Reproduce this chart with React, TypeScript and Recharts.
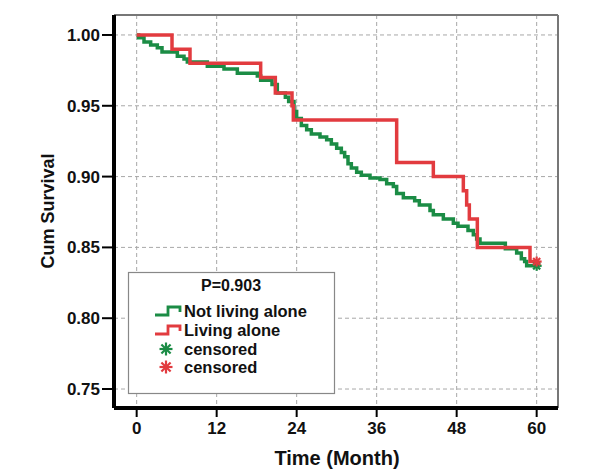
import React from 'react';
import { LineChart, Line, XAxis, YAxis, CartesianGrid, ReferenceLine } from 'recharts';

// ---- Data ----
const notAloneTimes = [0, 0.3, 1.1, 2.1, 3.1, 3.8, 6.1, 7.1, 7.6, 10.6, 13.1, 15.1, 18.1, 18.6, 20.3, 21.1, 22.3, 22.8, 23.6, 24.0, 24.7, 25.5, 26.2, 27.5, 28.5, 29.2, 30.0, 30.7, 31.2, 31.7, 32.2, 33.0, 33.7, 35.0, 36.5, 37.5, 38.5, 39.0, 40.0, 41.7, 42.4, 44.0, 44.5, 46.0, 47.5, 48.2, 49.7, 50.5, 51.0, 51.5, 55.3, 57.0, 57.7, 58.2, 58.5, 60];
const notAloneSurv = [1.0, 0.998, 0.995, 0.993, 0.991, 0.988, 0.985, 0.983, 0.981, 0.978, 0.976, 0.973, 0.971, 0.968, 0.965, 0.959, 0.956, 0.953, 0.946, 0.941, 0.936, 0.933, 0.930, 0.928, 0.926, 0.923, 0.920, 0.917, 0.914, 0.909, 0.906, 0.903, 0.901, 0.899, 0.898, 0.895, 0.893, 0.888, 0.885, 0.883, 0.880, 0.876, 0.873, 0.870, 0.867, 0.865, 0.862, 0.859, 0.856, 0.853, 0.849, 0.846, 0.842, 0.840, 0.837, 0.837];
const notAloneCensored = [60];

const aloneTimes = [0, 5.3, 8.0, 18.6, 20.8, 23.3, 23.5, 39.0, 44.5, 49.0, 49.5, 49.9, 51.1, 59.0, 60];
const aloneSurv = [1.0, 0.990, 0.980, 0.970, 0.959, 0.950, 0.940, 0.910, 0.900, 0.890, 0.880, 0.870, 0.850, 0.840, 0.840];
const aloneCensored = [60];

const xTicks = [0, 12, 24, 36, 48, 60];
const yTicks = [0.75, 0.8, 0.85, 0.9, 0.95, 1.0];
const X_DOMAIN: [number, number] = [-3.4, 63.2];
const Y_DOMAIN: [number, number] = [0.7366, 1.0141];

const groupLabels = ['Not living alone', 'Living alone'];
const censoredLabel = 'censored';
const pValueText = 'P=0.903';
const xTitle = 'Time (Month)';
const yTitle = 'Cum Survival';

const GREEN = '#1b8c45';
const RED = '#e23b3f';
const FONT = '"Liberation Sans", Arial, sans-serif';

const build = (ts: number[], ss: number[], cens: number[]) =>
  ts.map((t, i) => ({ t, s: ss[i], c: cens.includes(t) }));

const greenData = build(notAloneTimes, notAloneSurv, notAloneCensored);
const redData = build(aloneTimes, aloneSurv, aloneCensored);

const Star = ({ cx, cy, color, r = 5 }: { cx: number; cy: number; color: string; r?: number }) => {
  const lines = [];
  for (let k = 0; k < 4; k++) {
    const a = (k * Math.PI) / 4;
    const dx = Math.cos(a) * r;
    const dy = Math.sin(a) * r;
    lines.push(<line key={k} x1={cx - dx} y1={cy - dy} x2={cx + dx} y2={cy + dy} stroke={color} strokeWidth={2.2} />);
  }
  return <g>{lines}</g>;
};

const makeDot = (color: string) => (props: any) => {
  const { cx, cy, payload, index } = props;
  if (payload && payload.c) {
    return (
      <g key={`dot-${color}-${index}`}>
        <Star cx={cx} cy={cy} color={color} />
      </g>
    );
  }
  return <g key={`dot-${color}-${index}`} />;
};

const StepIcon = ({ x, y, color }: { x: number; y: number; color: string }) => (
  <path d={`M${x},${y + 4} H${x + 13} V${y - 4} H${x + 25} V${y + 1}`} fill="none" stroke={color} strokeWidth={2.8} />
);

const LegendBox = () => {
  const rows = [311, 330, 349, 367];
  const tx = 184;
  return (
    <svg width={592} height={471} style={{ position: 'absolute', left: 0, top: 0, pointerEvents: 'none' }}>
      <rect x={128.5} y={272.5} width={206} height={121} fill="#fff" stroke="#888" strokeWidth={1.2} />
      <text x={231} y={285} textAnchor="middle" dominantBaseline="central" fontFamily={FONT} fontWeight="bold" fontSize={16} fill="#111">
        {pValueText}
      </text>
      <StepIcon x={155} y={rows[0]} color={GREEN} />
      <text x={tx} y={rows[0]} dominantBaseline="central" fontFamily={FONT} fontWeight="bold" fontSize={16.5} fill="#111">
        {groupLabels[0]}
      </text>
      <StepIcon x={155} y={rows[1]} color={RED} />
      <text x={tx} y={rows[1]} dominantBaseline="central" fontFamily={FONT} fontWeight="bold" fontSize={16.5} fill="#111">
        {groupLabels[1]}
      </text>
      <Star cx={166} cy={rows[2]} color={GREEN} r={6.5} />
      <text x={tx} y={rows[2]} dominantBaseline="central" fontFamily={FONT} fontWeight="bold" fontSize={16.5} fill="#111">
        {censoredLabel}
      </text>
      <Star cx={166} cy={rows[3]} color={RED} r={6.5} />
      <text x={tx} y={rows[3]} dominantBaseline="central" fontFamily={FONT} fontWeight="bold" fontSize={16.5} fill="#111">
        {censoredLabel}
      </text>
    </svg>
  );
};

export default function App() {
  return (
    <div style={{ position: 'absolute', left: 0, top: 0, width: 592, height: 471, background: '#fff' }}>
      <LineChart
        width={592}
        height={471}
        margin={{ top: 15, right: 34, bottom: 33, left: 54 }}
        style={{ fontFamily: FONT }}
      >
        <CartesianGrid
          stroke="#a8a8a8"
          strokeDasharray="4 3"
          verticalValues={xTicks}
          horizontalValues={yTicks}
        />
        <XAxis
          type="number"
          dataKey="t"
          domain={X_DOMAIN}
          ticks={xTicks}
          allowDataOverflow
          height={30}
          axisLine={{ stroke: '#000', strokeWidth: 4 }}
          tickLine={{ stroke: '#000', strokeWidth: 2 }}
          tickSize={9}
          tickMargin={5}
          tick={{ fill: '#111', fontSize: 17, fontWeight: 'bold', fontFamily: FONT }}
          label={{
            content: () => (
              <text x={337} y={458} textAnchor="middle" dominantBaseline="central" fontFamily={FONT} fontWeight="bold" fontSize={20} fill="#111">
                {xTitle}
              </text>
            ),
          }}
        />
        <YAxis
          type="number"
          domain={Y_DOMAIN}
          ticks={yTicks}
          allowDataOverflow
          width={60}
          axisLine={{ stroke: '#000', strokeWidth: 4 }}
          tickLine={{ stroke: '#000', strokeWidth: 2 }}
          tickSize={12}
          tickMargin={2}
          tickFormatter={(v: number) => v.toFixed(2)}
          tick={{ fill: '#111', fontSize: 17, fontWeight: 'bold', fontFamily: FONT }}
          label={{
            content: () => (
              <text
                transform="translate(48,211) rotate(-90)"
                textAnchor="middle"
                dominantBaseline="central"
                fontFamily={FONT}
                fontWeight="bold"
                fontSize={18}
                fill="#111"
              >
                {yTitle}
              </text>
            ),
          }}
        />
        <ReferenceLine y={Y_DOMAIN[1]} stroke="#777" strokeWidth={2} ifOverflow="visible" />
        <ReferenceLine x={X_DOMAIN[1]} stroke="#777" strokeWidth={2} ifOverflow="visible" />
        <Line
          data={greenData}
          dataKey="s"
          type="stepAfter"
          stroke={GREEN}
          strokeWidth={3.5}
          dot={makeDot(GREEN)}
          activeDot={false}
          isAnimationActive={false}
        />
        <Line
          data={redData}
          dataKey="s"
          type="stepAfter"
          stroke={RED}
          strokeWidth={3.5}
          dot={makeDot(RED)}
          activeDot={false}
          isAnimationActive={false}
        />
      </LineChart>
      <LegendBox />
    </div>
  );
}
